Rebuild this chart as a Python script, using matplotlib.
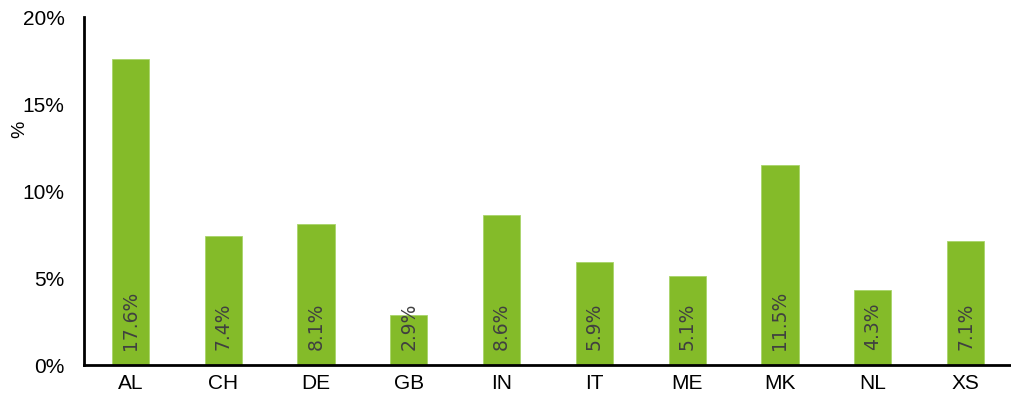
import matplotlib.pyplot as plt
from matplotlib.ticker import FuncFormatter

# Data
countries = ['AL', 'CH', 'DE', 'GB', 'IN', 'IT', 'ME', 'MK', 'NL', 'XS']
shares = [17.6, 7.4, 8.1, 2.9, 8.6, 5.9, 5.1, 11.5, 4.3, 7.1]

BAR_COLOR = '#84BB29'

fig = plt.figure(figsize=(10.12, 4.02), dpi=100)
ax = fig.add_axes([0.083, 0.0896, 0.917, 0.866])

x = range(len(countries))
ax.bar(x, shares, width=0.4, color=BAR_COLOR, edgecolor='#A8D46A', linewidth=0.6)

# Rotated value labels near bar base
for xi, v in zip(x, shares):
    ax.text(xi, 0.9, f'{v:.1f}%', rotation=90, ha='center', va='bottom',
            fontsize=13.5, color='#404040', family='DejaVu Sans')

ax.set_xlim(-0.5, len(countries) - 0.5)
ax.set_ylim(0, 20)
ax.set_yticks([0, 5, 10, 15, 20])
ax.yaxis.set_major_formatter(FuncFormatter(lambda v, p: f'{v:.0f}%'))
ax.set_xticks(list(x))
ax.set_xticklabels(countries)

for lbl in ax.get_xticklabels() + ax.get_yticklabels():
    lbl.set_fontfamily('Liberation Sans')
    lbl.set_fontsize(15)
    lbl.set_color('black')

ax.tick_params(axis='both', length=0)
ax.tick_params(axis='x', pad=6)
ax.tick_params(axis='y', pad=14)

for side in ['top', 'right']:
    ax.spines[side].set_visible(False)
for side in ['left', 'bottom']:
    ax.spines[side].set_linewidth(2)
    ax.spines[side].set_color('black')

ax.set_ylabel('%', fontsize=14, family='Liberation Sans')
ax.yaxis.set_label_coords(-0.06, 0.68)

fig.savefig('out.png', dpi=100)
